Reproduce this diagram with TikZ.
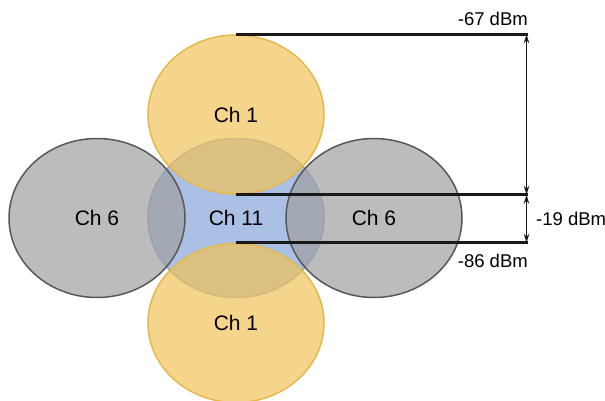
\documentclass[tikz,border=0pt]{standalone}
\usepackage{fontspec}
\setmainfont{Liberation Sans}
\usepackage{tikz}
\usetikzlibrary{arrows.meta}
\usetikzlibrary{shapes.geometric}
\usetikzlibrary{calc}
\definecolor{chone}{RGB}{241,195,91}
\definecolor{choneline}{RGB}{230,184,74}
\definecolor{chsix}{RGB}{160,160,160}
\definecolor{chsixline}{RGB}{88,88,88}
\definecolor{cheleven}{RGB}{170,192,228}

\begin{document}
\begin{tikzpicture}[x=1pt, y=-1pt,
		chan/.style={ellipse, minimum width=176pt, minimum height=159pt, inner sep=0pt, line width=1.5pt, text opacity=1, font=\fontsize{21}{25}\selectfont},
		level/.style={line width=2.6pt, color=black!90},
		span/.style={{Stealth[length=9pt,width=5.5pt]}-{Stealth[length=9pt,width=5.5pt]}, line width=1.5pt, color=black!90},
		dbm/.style={font=\fontsize{18.5}{22}\selectfont, inner sep=0pt}]
				\useasboundingbox (0, 0) rectangle (605, 401);
				% channels
				\node[chan, draw=cheleven!85!black, fill=cheleven] (ch11) at (236, 218) {Ch 11};
				\node[chan, draw=choneline, fill=chone, fill opacity=0.7] (ch1top) at (236, 114.5) {Ch 1};
				\node[chan, draw=choneline, fill=chone, fill opacity=0.7] (ch1bot) at (236, 323) {Ch 1};
				\node[chan, draw=chsixline, fill=chsix, fill opacity=0.7] (ch6left) at (97, 218) {Ch 6};
				\node[chan, draw=chsixline, fill=chsix, fill opacity=0.7] (ch6right) at (374, 218) {Ch 6};
				% signal levels
				\draw[level] (ch1top.north) -- ++(292, 0) coordinate (lvl67);
				\draw[level] (ch1top.south) -- ++(292, 0) coordinate (lvl86a);
				\draw[level] (ch1bot.north) -- ++(292, 0) coordinate (lvl86b);
				\draw[span] ([xshift=-1.5pt]lvl86a) -- ([xshift=-1.5pt]lvl67);
				\draw[span] ([xshift=-1.5pt]lvl86a) -- ([xshift=-1.5pt]lvl86b);
				\node[dbm, anchor=south east] (txt67) at ([yshift=8pt]lvl67) {-67 dBm};
				\node[dbm, anchor=west] (txt19) at ($(lvl86a)!0.5!(lvl86b)+(8,0)$) {-19 dBm};
				\node[dbm, anchor=north east] (txt86) at ([yshift=-11pt]lvl86b) {-86 dBm};
			\end{tikzpicture}
\end{document}
